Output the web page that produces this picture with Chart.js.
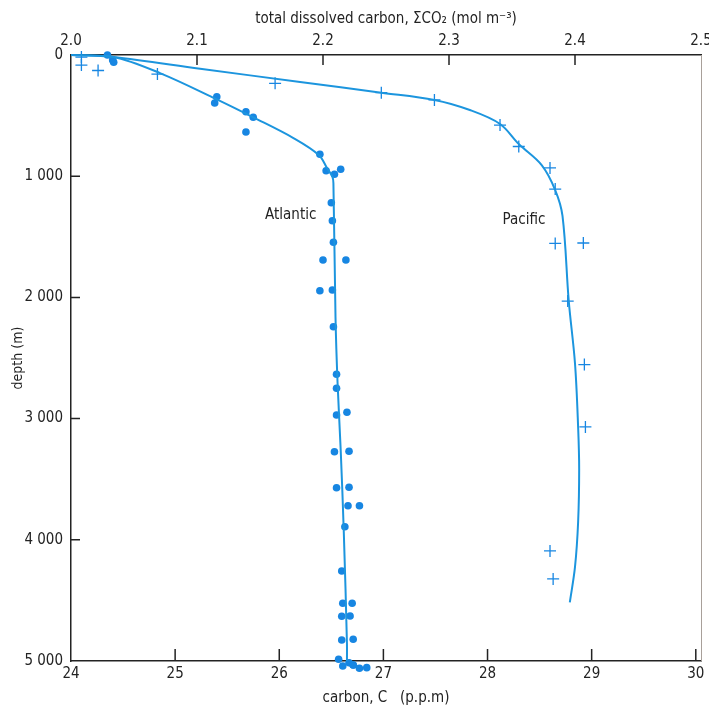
<!DOCTYPE html>
<html>
<head>
<meta charset="utf-8">
<script src="https://cdn.jsdelivr.net/npm/chart.js@4.4.0/dist/chart.umd.min.js"></script>
<style>
  html, body { margin: 0; padding: 0; background: #fff; }
</style>
</head>
<body>
<canvas id="chart" width="709" height="713"></canvas>
<script>
// measured points (carbon C in p.p.m, depth in m)
const atlanticC = [24.35, 24.40, 24.41, 25.40, 25.38, 25.68, 25.75, 25.68, 26.39, 26.45, 26.59, 26.53,
  26.50, 26.51, 26.52, 26.42, 26.64, 26.39, 26.51, 26.52, 26.55, 26.55, 26.55, 26.65,
  26.53, 26.67, 26.55, 26.67, 26.66, 26.77, 26.63, 26.60, 26.61, 26.70, 26.60, 26.68,
  26.60, 26.71, 26.57, 26.61, 26.67, 26.71, 26.77, 26.84];
const atlanticDepth = [0, 41, 60, 344, 396, 468, 514, 635, 819, 955, 943, 984,
  1219, 1367, 1545, 1691, 1691, 1945, 1939, 2242, 2634, 2750, 2970, 2948,
  3273, 3270, 3570, 3567, 3719, 3719, 3892, 4257, 4524, 4524, 4631, 4629,
  4827, 4821, 4986, 5041, 5014, 5033, 5060, 5055];

const pacificC = [24.10, 24.10, 24.26, 24.83, 25.96, 26.98, 27.49, 28.12, 28.30, 28.60,
  28.65, 28.65, 28.92, 28.77, 28.93, 28.94, 28.60, 28.63];
const pacificDepth = [17, 83, 128, 157, 234, 311, 371, 578, 755, 932,
  1106, 1555, 1551, 2030, 2554, 3069, 4092, 4323];

// hand-drawn fitted curves
const atlanticCurveC = [24.0, 24.40, 24.86, 25.40, 25.75, 26.14, 26.38, 26.46, 26.51, 26.52,
  26.54, 26.56, 26.59, 26.62, 26.65, 26.65];
const atlanticCurveDepth = [0, 14, 151, 366, 514, 687, 825, 935, 1004, 1059,
  2159, 2709, 3259, 3944, 4854, 5000];

const pacificCurveC = [24.0, 24.40, 25.24, 26.20, 26.98, 27.49, 27.83, 28.12, 28.30, 28.52,
  28.65, 28.72, 28.78, 28.84, 28.87, 28.88, 28.87, 28.84, 28.79];
const pacificCurveDepth = [0, 16, 113, 223, 311, 371, 454, 569, 734, 908,
  1114, 1328, 2030, 2545, 3069, 3416, 3853, 4224, 4517];

// axes
const depthTicks = [0, 1000, 2000, 3000, 4000, 5000];
const depthTickLabels = ['0', '1 000', '2 000', '3 000', '4 000', '5 000'];
const carbonTicks = [24, 25, 26, 27, 28, 29, 30];
const co2Ticks = [2.0, 2.1, 2.2, 2.3, 2.4, 2.5];
const co2TickLabels = ['2.0', '2.1', '2.2', '2.3', '2.4', '2.5'];

const seriesLabels = [
  { text: 'Atlantic', c: 26.11, depth: 1320 },
  { text: 'Pacific', c: 28.35, depth: 1361 }
];

const blue = '#1786e2';
const lineBlue = '#1c95de';
const ink = '#232323';
const fontFamily = "'DejaVu Sans Condensed', 'Liberation Sans', Arial, sans-serif";

function pairs(xs, ys) {
  return xs.map((x, i) => ({ x: x, y: ys[i] }));
}

const frame = {
  id: 'frame',
  afterDraw(chart) {
    const { ctx, chartArea: a, scales } = chart;
    ctx.save();
    ctx.strokeStyle = ink;
    ctx.lineWidth = 1.5;
    ctx.beginPath();
    co2Ticks.slice(1, -1).forEach(v => {
      const x = scales.x2.getPixelForValue(v);
      ctx.moveTo(x, a.top);
      ctx.lineTo(x, a.top + 10);
    });
    carbonTicks.slice(1).forEach(v => {
      const x = scales.x.getPixelForValue(v);
      ctx.moveTo(x, a.bottom);
      ctx.lineTo(x, a.bottom - 12);
    });
    depthTicks.slice(1, -1).forEach(v => {
      const y = scales.y.getPixelForValue(v);
      ctx.moveTo(a.left, y);
      ctx.lineTo(a.left + 9, y);
    });
    ctx.stroke();

    ctx.strokeStyle = '#a8a09a';
    ctx.lineWidth = 1;
    ctx.beginPath();
    ctx.moveTo(a.right + 0.5, a.top);
    ctx.lineTo(a.right + 0.5, a.bottom);
    ctx.stroke();

    // Chart.js skips points that fall outside the chart area; the deepest
    // Atlantic samples sit just below the 5 000 m line, so draw those here
    const meta = chart.getDatasetMeta(2);
    ctx.fillStyle = blue;
    meta.data.forEach(p => {
      if (p.y > a.bottom + 2) {
        ctx.beginPath();
        ctx.arc(p.x, p.y, 3.8, 0, Math.PI * 2);
        ctx.fill();
      }
    });

    ctx.fillStyle = ink;
    ctx.font = '15px ' + fontFamily;
    ctx.textAlign = 'center';
    ctx.textBaseline = 'middle';
    seriesLabels.forEach(l => {
      ctx.fillText(l.text, scales.x.getPixelForValue(l.c), scales.y.getPixelForValue(l.depth));
    });
    ctx.restore();
  }
};

function noSidePad(s) {
  s.paddingLeft = 0;
  s.paddingRight = 0;
}

new Chart(document.getElementById('chart'), {
  type: 'scatter',
  data: {
    datasets: [
      {
        label: 'Atlantic curve',
        type: 'line',
        data: pairs(atlanticCurveC, atlanticCurveDepth),
        borderColor: lineBlue,
        borderWidth: 2,
        pointRadius: 0,
        tension: 0.35,
        fill: false,
        clip: false
      },
      {
        label: 'Pacific curve',
        type: 'line',
        data: pairs(pacificCurveC, pacificCurveDepth),
        borderColor: lineBlue,
        borderWidth: 2,
        pointRadius: 0,
        tension: 0.35,
        fill: false,
        clip: false
      },
      {
        label: 'Atlantic',
        data: pairs(atlanticC, atlanticDepth),
        pointStyle: 'circle',
        pointRadius: 3.8,
        backgroundColor: blue,
        borderColor: blue,
        borderWidth: 0,
        clip: false
      },
      {
        label: 'Pacific',
        data: pairs(pacificC, pacificDepth),
        pointStyle: 'cross',
        pointRadius: 6,
        borderColor: blue,
        borderWidth: 1.3,
        clip: false
      }
    ]
  },
  options: {
    responsive: false,
    animation: false,
    layout: { padding: { left: 0, right: 8, top: 0, bottom: 0 } },
    plugins: {
      legend: { display: false },
      tooltip: { enabled: false }
    },
    scales: {
      x: {
        type: 'linear',
        position: 'bottom',
        min: 24,
        max: 30.05,
        afterBuildTicks: s => { s.ticks = carbonTicks.map(v => ({ value: v })); },
        afterFit: s => { s.height = 52; noSidePad(s); },
        grid: { display: false, drawTicks: false },
        border: { display: true, color: ink, width: 1.5 },
        ticks: {
          color: ink,
          padding: 4,
          maxRotation: 0,
          font: { family: fontFamily, size: 15 },
          callback: v => String(v)
        },
        title: {
          display: true,
          text: 'carbon, C   (p.p.m)',
          color: ink,
          padding: { top: 0, bottom: 6 },
          font: { family: fontFamily, size: 15 }
        }
      },
      x2: {
        type: 'linear',
        position: 'top',
        min: 2.0,
        max: 2.5,
        afterBuildTicks: s => { s.ticks = co2Ticks.map(v => ({ value: v })); },
        afterFit: s => { s.height = 55; noSidePad(s); },
        grid: { display: false, drawTicks: false },
        border: { display: true, color: ink, width: 1.5 },
        ticks: {
          color: ink,
          padding: 5,
          maxRotation: 0,
          font: { family: fontFamily, size: 15 },
          callback: (v, i) => co2TickLabels[i]
        },
        title: {
          display: true,
          text: 'total dissolved carbon, \u03A3CO\u2082 (mol m\u207B\u00B3)',
          color: ink,
          padding: { top: 10, bottom: 0 },
          font: { family: fontFamily, size: 15 }
        }
      },
      y: {
        type: 'linear',
        position: 'left',
        reverse: true,
        min: 0,
        max: 5000,
        afterBuildTicks: s => { s.ticks = depthTicks.map(v => ({ value: v })); },
        afterFit: s => { s.width = 71; s.paddingTop = 0; s.paddingBottom = 0; },
        grid: { display: false, drawTicks: false },
        border: { display: true, color: ink, width: 1.5 },
        ticks: {
          color: ink,
          padding: 8,
          font: { family: fontFamily, size: 15 },
          callback: (v, i) => depthTickLabels[i]
        },
        title: {
          display: true,
          text: 'depth (m)',
          color: ink,
          padding: { top: 10, bottom: 0 },
          font: { family: fontFamily, size: 14 }
        }
      }
    }
  },
  plugins: [frame]
});
</script>
</body>
</html>
